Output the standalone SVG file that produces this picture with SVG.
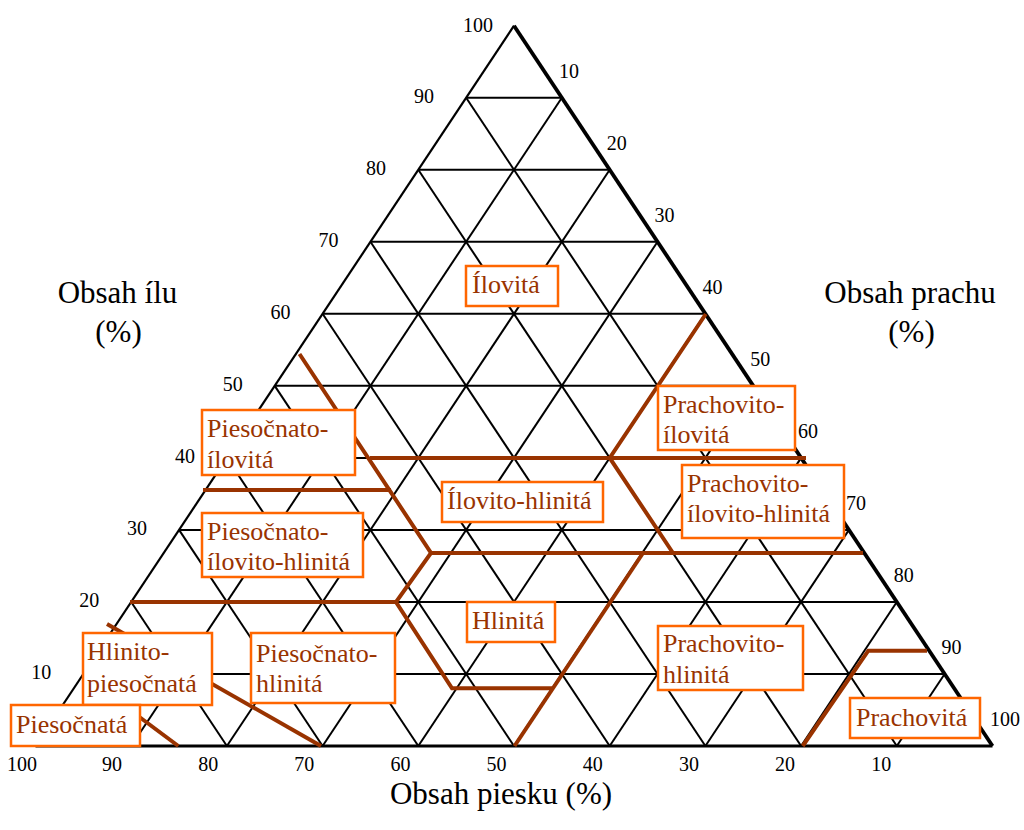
<svg xmlns="http://www.w3.org/2000/svg" width="1024" height="830" viewBox="0 0 1024 830">
<style>
.grid{stroke:#000;stroke-width:2;fill:none}
.edge{stroke:#000;fill:none;stroke-linejoin:miter}
.bnd{stroke:#993300;stroke-width:4;fill:none;stroke-linejoin:miter}
.box{fill:#fff;stroke:#ff6600;stroke-width:2.5}
.lbl{font-family:"Liberation Serif","Times New Roman",serif;font-size:26px;fill:#993300}
.num{font-family:"Liberation Serif","Times New Roman",serif;font-size:20px;fill:#000}
.ttl{font-family:"Liberation Serif","Times New Roman",serif;font-size:31px;fill:#000}
</style>
<rect width="1024" height="830" fill="#fff"/>
<g id="grid" class="grid">
<line x1="83.35" y1="674" x2="944.65" y2="674"/>
<line x1="131.2" y1="602" x2="896.8" y2="602"/>
<line x1="179.05" y1="529.9" x2="848.95" y2="529.9"/>
<line x1="226.9" y1="457.9" x2="801.1" y2="457.9"/>
<line x1="274.75" y1="385.85" x2="753.25" y2="385.85"/>
<line x1="322.6" y1="313.8" x2="705.4" y2="313.8"/>
<line x1="370.45" y1="241.8" x2="657.55" y2="241.8"/>
<line x1="418.3" y1="169.8" x2="609.7" y2="169.8"/>
<line x1="466.15" y1="97.7" x2="561.85" y2="97.7"/>
<line x1="466.15" y1="97.7" x2="896.8" y2="746"/>
<line x1="418.3" y1="169.8" x2="801.1" y2="746"/>
<line x1="370.45" y1="241.8" x2="705.4" y2="746"/>
<line x1="322.6" y1="313.8" x2="609.7" y2="746"/>
<line x1="274.75" y1="385.85" x2="514" y2="746"/>
<line x1="226.9" y1="457.9" x2="418.3" y2="746"/>
<line x1="179.05" y1="529.9" x2="322.6" y2="746"/>
<line x1="131.2" y1="602" x2="226.9" y2="746"/>
<line x1="83.35" y1="674" x2="131.2" y2="746"/>
<line x1="131.2" y1="746" x2="561.85" y2="97.7"/>
<line x1="226.9" y1="746" x2="609.7" y2="169.8"/>
<line x1="322.6" y1="746" x2="657.55" y2="241.8"/>
<line x1="418.3" y1="746" x2="705.4" y2="313.8"/>
<line x1="514" y1="746" x2="753.25" y2="385.85"/>
<line x1="609.7" y1="746" x2="801.1" y2="457.9"/>
<line x1="705.4" y1="746" x2="848.95" y2="529.9"/>
<line x1="801.1" y1="746" x2="896.8" y2="602"/>
<line x1="896.8" y1="746" x2="944.65" y2="674"/>
</g>
<g id="outline">
<line class="edge" stroke-width="2.2" x1="35.5" y1="746" x2="514" y2="25.7"/>
<line class="edge" stroke-width="3.8" x1="514" y1="25.7" x2="992.5" y2="746"/>
<line class="edge" stroke-width="3" x1="35.5" y1="746" x2="992.5" y2="746"/>
</g>
<g id="connectors" class="bnd">
<polyline points="705.8,314 609.7,457.9 673,553"/>
<line x1="370" y1="457.9" x2="806" y2="457.9"/>
<polyline points="299.5,354 431,553 396,602 452,688.3 552.5,688.3"/>
<line x1="203" y1="490" x2="391" y2="490"/>
<line x1="431" y1="553" x2="863" y2="553"/>
<line x1="643" y1="553" x2="514.5" y2="746"/>
<line x1="130" y1="602" x2="396" y2="602"/>
<polyline points="802.7,746 868.3,650.7 927,650.7"/>
<line x1="107" y1="624" x2="321" y2="746"/>
<line x1="130" y1="710" x2="178.3" y2="746"/>
</g>
<g id="n-ilovita"><rect class="box" x="466" y="266" width="92" height="40"/><text class="lbl" x="472" y="293">Ílovitá</text></g>
<g id="n-prachovito-ilovita"><rect class="box" x="658" y="386" width="137" height="64"/><text class="lbl" x="663" y="413">Prachovito-</text><text class="lbl" x="663" y="443">ílovitá</text></g>
<g id="n-prachovito-ilovito-hlinita"><rect class="box" x="682" y="465" width="162" height="73"/><text class="lbl" x="687" y="492">Prachovito-</text><text class="lbl" x="687" y="522">ílovito-hlinitá</text></g>
<g id="n-piesocnato-ilovita"><rect class="box" x="202" y="410" width="153" height="65"/><text class="lbl" x="207" y="437">Piesočnato-</text><text class="lbl" x="207" y="468">ílovitá</text></g>
<g id="n-piesocnato-ilovito-hlinita"><rect class="box" x="202" y="513" width="161" height="64"/><text class="lbl" x="207" y="540">Piesočnato-</text><text class="lbl" x="207" y="570">ílovito-hlinitá</text></g>
<g id="n-ilovito-hlinita"><rect class="box" x="442" y="482" width="161" height="40"/><text class="lbl" x="447" y="509">Ílovito-hlinitá</text></g>
<g id="n-hlinita"><rect class="box" x="467" y="602" width="88" height="40"/><text class="lbl" x="472" y="629">Hlinitá</text></g>
<g id="n-hlinito-piesocnata"><rect class="box" x="83" y="633" width="129" height="72"/><text class="lbl" x="87" y="660">Hlinito-</text><text class="lbl" x="87" y="692">piesočnatá</text></g>
<g id="n-piesocnata"><rect class="box" x="11" y="705" width="129" height="41"/><text class="lbl" x="16" y="733">Piesočnatá</text></g>
<g id="n-piesocnato-hlinita"><rect class="box" x="251" y="633" width="144" height="70"/><text class="lbl" x="256" y="662">Piesočnato-</text><text class="lbl" x="256" y="692">hlinitá</text></g>
<g id="n-prachovito-hlinita"><rect class="box" x="658" y="626" width="145" height="64"/><text class="lbl" x="663" y="652">Prachovito-</text><text class="lbl" x="663" y="683">hlinitá</text></g>
<g id="n-prachovita"><rect class="box" x="850" y="698" width="130" height="40"/><text class="lbl" x="856" y="726">Prachovitá</text></g>
<g id="axis-clay" class="num" text-anchor="end">
<text x="493" y="32">100</text>
<text x="434" y="103">90</text>
<text x="386" y="175">80</text>
<text x="338.5" y="247">70</text>
<text x="290.6" y="319">60</text>
<text x="242.7" y="391">50</text>
<text x="194.9" y="463">40</text>
<text x="147" y="535">30</text>
<text x="99.2" y="607">20</text>
<text x="51.3" y="679">10</text>
</g>
<g id="axis-silt" class="num">
<text x="559" y="78">10</text>
<text x="606.7" y="150">20</text>
<text x="654.5" y="222">30</text>
<text x="702.4" y="294">40</text>
<text x="750.2" y="366">50</text>
<text x="798.1" y="438">60</text>
<text x="846" y="510">70</text>
<text x="893.8" y="582">80</text>
<text x="941.6" y="654">90</text>
<text x="990" y="726">100</text>
</g>
<g id="axis-sand" class="num" text-anchor="middle">
<text x="22" y="771">100</text>
<text x="112" y="771">90</text>
<text x="208.2" y="771">80</text>
<text x="304.3" y="771">70</text>
<text x="400.5" y="771">60</text>
<text x="496.6" y="771">50</text>
<text x="592.8" y="771">40</text>
<text x="689" y="771">30</text>
<text x="785.1" y="771">20</text>
<text x="881.3" y="771">10</text>
</g>
<g id="titles" class="ttl" text-anchor="middle">
<text x="117.5" y="303">Obsah ílu</text>
<text x="118.5" y="342">(%)</text>
<text x="910" y="303">Obsah prachu</text>
<text x="911.5" y="342">(%)</text>
<text x="501" y="804">Obsah piesku (%)</text>
</g>
</svg>
